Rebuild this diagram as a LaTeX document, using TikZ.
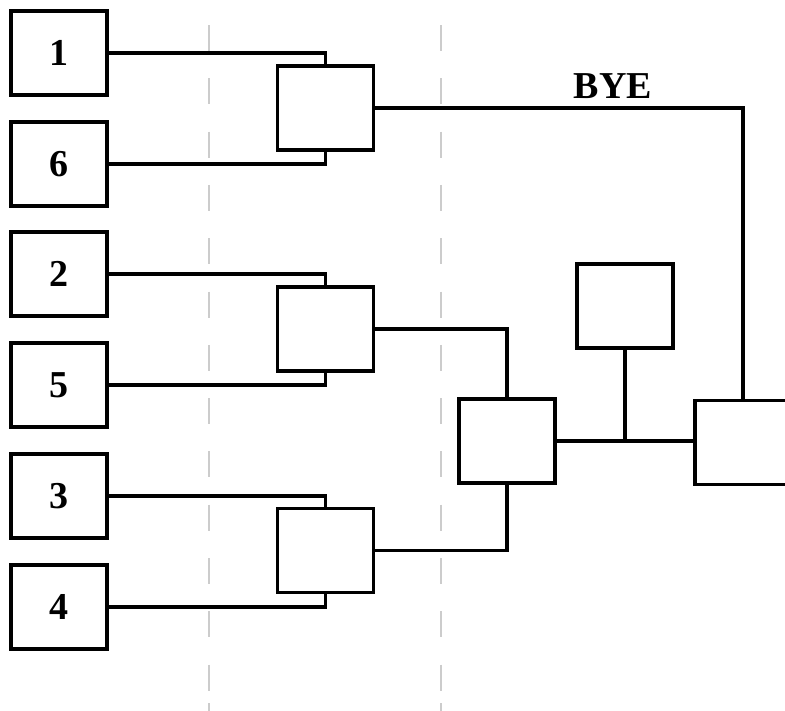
\documentclass[tikz,border=0pt]{standalone}
\usepackage{fontspec}
\setmainfont{Liberation Serif}
\begin{document}
\begin{tikzpicture}[x=1pt,y=-1pt,
  slot/.style={draw=black, line width=3.3pt, fill=white, minimum width=96pt, minimum height=84pt, inner sep=0pt, outer sep=0pt,
    font=\fontsize{38}{38}\selectfont\bfseries},
  wire/.style={draw=black, line width=3.3pt},
  guide/.style={draw=black!20, line width=2pt, dash pattern=on 26pt off 27.3pt}]
\useasboundingbox (0,0) rectangle (785,710);
\clip (0,0) rectangle (785,710);
% guide lines
\coordinate (g1t) at (209,25); \coordinate (g1m) at (209,692);
\coordinate (g1n) at (209,703); \coordinate (g1b) at (209,712);
\coordinate (g2t) at (441,25); \coordinate (g2m) at (441,692);
\coordinate (g2n) at (441,703); \coordinate (g2b) at (441,712);
\draw[guide] (g1t) -- (g1m);
\draw[guide] (g1n) -- (g1b);
\draw[guide] (g2t) -- (g2m);
\draw[guide] (g2n) -- (g2b);
% seeds
\node[slot] (s1) at (59,53) {1};
\node[slot] (s6) at (59,164) {6};
\node[slot] (s2) at (59,274) {2};
\node[slot] (s5) at (59,385) {5};
\node[slot] (s3) at (59,496) {3};
\node[slot] (s4) at (59,607) {4};
% round 1
\node[slot] (ra) at (325.5,108) {};
\node[slot] (rb) at (325.5,329) {};
\node[slot] (rc) at (325.5,550.5) {};
% semifinal, third place, final
\node[slot] (sf) at (507,441) {};
\node[slot] (tp) at (625,306) {};
\node[slot] (fi) at (743,442.5) {};
% connectors
\draw[wire] (s1.east) -| (ra.north);
\draw[wire] (s6.east) -| (ra.south);
\draw[wire] (s2.east) -| (rb.north);
\draw[wire] (s5.east) -| (rb.south);
\draw[wire] (s3.east) -| (rc.north);
\draw[wire] (s4.east) -| (rc.south);
\draw[wire] (ra.east) -| (fi.north);
\draw[wire] (rb.east) -| (sf.north);
\draw[wire] (rc.east) -| (sf.south);
\draw[wire] (sf.east) -- (sf.east -| fi.west);
\draw[wire] (tp.south) -- (tp.south |- sf.east);
\node[font=\fontsize{38}{38}\selectfont\bfseries, inner sep=0pt] (bye) at (613,86) {BYE};
\end{tikzpicture}
\end{document}
